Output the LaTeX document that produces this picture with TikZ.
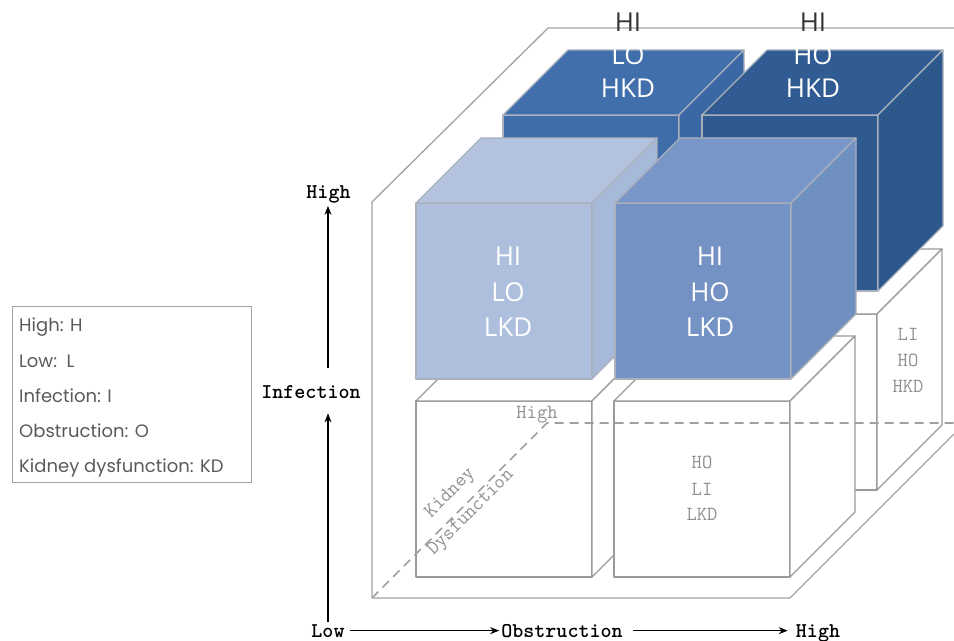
\documentclass[tikz,border=0pt]{standalone}
\usepackage{fontspec}
\setmainfont{Open Sans}
\newfontfamily\legfont{Poppins}
\newfontfamily\cubefont{Open Sans}
\usetikzlibrary{arrows.meta}
\definecolor{framegray}{HTML}{A2A2A2}
\definecolor{dashgray}{HTML}{A0A0A0}
\definecolor{edgeB}{HTML}{AAB0BC}
\definecolor{edgeW}{HTML}{9A9A9A}
\definecolor{graytext}{HTML}{909090}
\definecolor{legendgray}{HTML}{5A5A5A}
\definecolor{darktext}{HTML}{353535}
\definecolor{cAf}{HTML}{AEBFDD}\definecolor{cAt}{HTML}{B2C2DF}\definecolor{cAs}{HTML}{A7B9D8}
\definecolor{cBf}{HTML}{7592C4}\definecolor{cBt}{HTML}{7896C7}\definecolor{cBs}{HTML}{7090C2}
\definecolor{cCf}{HTML}{3E6DAA}\definecolor{cCt}{HTML}{406FAC}\definecolor{cCs}{HTML}{3A68A4}
\definecolor{cDf}{HTML}{2F5A90}\definecolor{cDt}{HTML}{315C93}\definecolor{cDs}{HTML}{2D588C}
% cube: bx, by (front-bottom-left, image coords), front, top, side, edge colour
\newcommand\cubeat[6]{%
  \filldraw[cubeedge, draw=#6, fill=#3] (#1,#2) -- ++(176,0) -- ++(0,-176) -- ++(-176,0) -- cycle;
  \filldraw[cubeedge, draw=#6, fill=#4] (#1,#2) ++(0,-176) -- ++(65,-65) -- ++(176,0) -- ++(-65,65) -- cycle;
  \filldraw[cubeedge, draw=#6, fill=#5] (#1,#2) ++(176,0) -- ++(0,-176) -- ++(65,-65) -- ++(0,176) -- cycle;
}
\begin{document}
\begin{tikzpicture}[x=1bp,y=-1bp,
  frame/.style={draw=framegray, line width=1.3bp},
  kddash/.style={draw=dashgray, line width=1.6bp, dash pattern=on 9bp off 6bp},
  cubeedge/.style={line width=1.1bp, line join=round},
  cubetext/.style={font=\cubefont\fontsize{26bp}{30bp}\selectfont, text=white, anchor=base, inner sep=0pt},
  monotext/.style={font=\ttfamily\fontsize{20bp}{24bp}\selectfont, text=graytext, anchor=base, inner sep=0pt},
  axlab/.style={font=\ttfamily\bfseries\fontsize{21bp}{25bp}\selectfont, anchor=base, inner sep=2bp},
  axarrow/.style={-{Stealth[length=9bp,width=7bp]}, line width=1.3bp},
  legtext/.style={font=\legfont\fontsize{18bp}{22bp}\selectfont, text=legendgray, anchor=base west, inner sep=0pt}]
\useasboundingbox (0,0) rectangle (954,641);
\clip (0,0) rectangle (954,641);
% outer frame
\draw[frame] (372,598) -- (372,202) -- (548,28) -- (954,28);
\draw[frame] (372,598) -- (790,598) -- (954,434);
% cubes, back to front
\cubeat{503}{490}{white}{white}{white}{edgeW}
\cubeat{503}{291}{cCf}{cCt}{cCs}{edgeB}
\cubeat{701}{490}{white}{white}{white}{edgeW}
\cubeat{416}{577}{white}{white}{white}{edgeW}
\cubeat{702}{291}{cDf}{cDt}{cDs}{edgeB}
\cubeat{614}{577}{white}{white}{white}{edgeW}
\cubeat{416}{379}{cAf}{cAt}{cAs}{edgeB}
\cubeat{615}{379}{cBf}{cBt}{cBs}{edgeB}
% dashed kidney-dysfunction axis
\draw[kddash] (372,598) -- (547,423) -- (954,423);
% labels in the cubes
\node[cubetext] (a1) at (508,265.5) {HI};
\node[cubetext] (a2) at (508,301) {LO};
\node[cubetext] (a3) at (508,336.5) {LKD};
\node[cubetext] (b1) at (710,265.5) {HI};
\node[cubetext] (b2) at (710,301) {HO};
\node[cubetext] (b3) at (710,336.5) {LKD};
\node[cubetext, text=darktext] (c1) at (628,31.7) {HI};
\node[cubetext] (c2) at (628,65) {LO};
\node[cubetext] (c3) at (628,98) {HKD};
\node[cubetext, text=darktext] (d1) at (813,31.7) {HI};
\node[cubetext] (d2) at (813,65) {HO};
\node[cubetext] (d3) at (813,98) {HKD};
\node[monotext] (e1) at (702,468) {HO};
\node[monotext] (e2) at (702,495) {LI};
\node[monotext] (e3) at (702,520) {LKD};
\node[monotext] (f1) at (908,340.7) {LI};
\node[monotext] (f2) at (908,366.7) {HO};
\node[monotext] (f3) at (908,392.7) {HKD};
\node[monotext] (kdhigh) at (537,418) {High};
\node[monotext, anchor=center, rotate=45] (kd1) at (450.5,493.5) {Kidney};
\node[monotext, anchor=center, rotate=45] (kd2) at (471,513) {Dysfunction};
% axes
\node[axlab] (yhigh) at (328.5,199) {High};
\node[axlab] (infec) at (311,398) {Infection};
\node[axlab] (low) at (328,637) {Low};
\node[axlab] (obs) at (562,637) {Obstruction};
\node[axlab] (xhigh) at (818,637) {High};
\draw[axarrow, shorten >=13bp] (low.north) -- (low.north |- infec.south);
\draw[axarrow, shorten <=15bp] (low.north |- infec.north) -- (low.north |- yhigh.south);
\draw[axarrow, shorten <=3bp] (low.east) -- (low.east -| obs.west);
\draw[axarrow, shorten <=8bp, shorten >=6bp] (obs.east |- low.east) -- (low.east -| xhigh.west);
% legend
\node[draw=framegray, line width=1.3bp, minimum width=239bp, minimum height=176bp, inner sep=0pt, anchor=north west] (legend) at (12,306) {};
\node[legtext] (l1) at (19,331) {High: H};
\node[legtext] (l2) at (19,367) {Low:\ \ L};
\node[legtext] (l3) at (19,402) {Infection: I};
\node[legtext] (l4) at (19,437) {Obstruction: O};
\node[legtext] (l5) at (19,472) {Kidney dysfunction: KD};
\end{tikzpicture}
\end{document}
